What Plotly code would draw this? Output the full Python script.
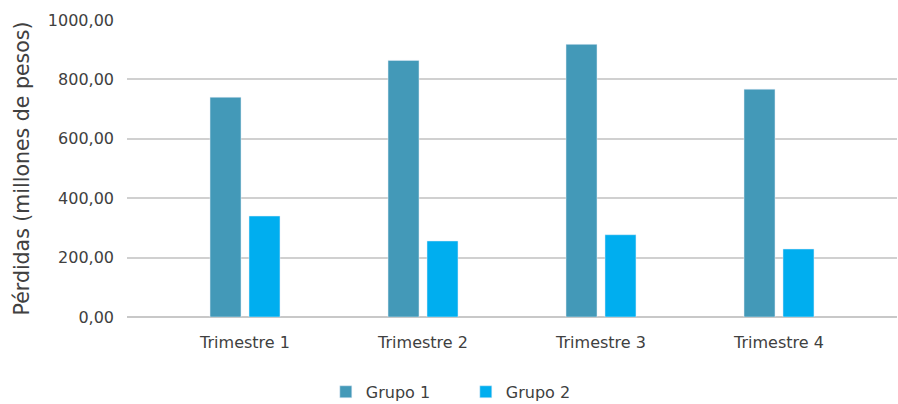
import plotly.graph_objects as go

categories = ["Trimestre 1", "Trimestre 2", "Trimestre 3", "Trimestre 4"]
grupo1 = [740, 864, 918, 767]
grupo2 = [340, 256, 277, 229]
ytick_vals = [0, 200, 400, 600, 800, 1000]
ytick_text = ["0,00", "200,00", "400,00", "600,00", "800,00", "1000,00"]

FONT = "DejaVu Sans"
TXT = "#404040"

fig = go.Figure()
fig.add_trace(go.Bar(name="Grupo 1", x=categories, y=grupo1, marker_color="#4399B8"))
fig.add_trace(go.Bar(name="Grupo 2", x=categories, y=grupo2, marker_color="#00AEEF"))

fig.update_layout(
    width=898, height=404,
    margin=dict(l=127, r=1, t=20, b=87, autoexpand=False),
    paper_bgcolor="white", plot_bgcolor="white",
    barmode="group", bargap=0.562, bargroupgap=0.205,
    font=dict(family=FONT, size=16, color=TXT),
    showlegend=True,
    legend=dict(orientation="h", x=0.44, xanchor="center", yref="container",
                y=0.03, yanchor="middle", entrywidth=95, entrywidthmode="pixels",
                font=dict(size=16, color=TXT), itemwidth=30, traceorder="normal"),
)
fig.update_xaxes(type="category", range=[-0.663, 3.663], showgrid=False,
                 showline=False, ticks="", ticklabelstandoff=14,
                 tickfont=dict(size=16, color=TXT))
fig.update_yaxes(range=[0, 1000], tickvals=ytick_vals, ticktext=ytick_text,
                 showgrid=True, gridcolor="#d0d0d0", gridwidth=1.5, zeroline=True,
                 zerolinecolor="#c8c8c8", zerolinewidth=1.5,
                 ticks="", ticklabelstandoff=12, tickfont=dict(size=16, color=TXT),
                 title=dict(text="Pérdidas (millones de pesos)", font=dict(size=20.5, color=TXT),
                            standoff=12))

fig.write_html("out.html")
